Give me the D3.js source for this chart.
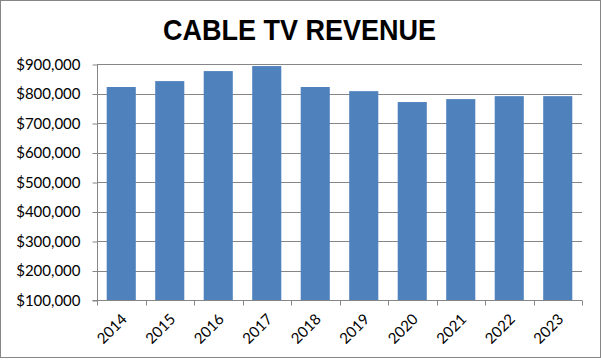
<!DOCTYPE html>
<html><head><meta charset="utf-8">
<script src="https://cdn.jsdelivr.net/npm/d3@7"></script>
<style>body{margin:0;background:#fff}svg{display:block}</style>
</head><body>
<script>
const years = ["2014","2015","2016","2017","2018","2019","2020","2021","2022","2023"];
const revenue = [822000, 842000, 876000, 893000, 822000, 808000, 771000, 781000, 791000, 791000];
const yTicks = [100000,200000,300000,400000,500000,600000,700000,800000,900000];
const title = "CABLE TV REVENUE";

const W = 601, H = 360;
const m = {left: 97, right: 19, top: 64, bottom: 60};
const svg = d3.select("body").append("svg").attr("width", W).attr("height", H);
svg.append("rect").attr("x",0.5).attr("y",0.5).attr("width",W-1).attr("height",H-3)
  .attr("fill","#fff").attr("stroke","#868686").attr("stroke-width",1);

const x = d3.scaleBand().domain(years).range([m.left, W-m.right]).paddingInner(0.4).paddingOuter(0.2);
const y = d3.scaleLinear().domain([100000, 900000]).range([H-m.bottom, m.top]);

svg.append("text").attr("transform","translate(299.5,40) scale(1,1.1)").attr("text-anchor","middle")
  .attr("font-family","Liberation Sans, Arial, sans-serif").attr("font-weight","bold")
  .attr("font-size", 27).attr("fill","#000").text(title);

// gridlines
svg.append("g").selectAll("line").data(yTicks.slice(1)).join("line")
  .attr("x1", m.left).attr("x2", W-m.right)
  .attr("y1", d=>Math.round(y(d))+0.5).attr("y2", d=>Math.round(y(d))+0.5)
  .attr("stroke","#868686").attr("stroke-width",1);

// y axis
const fmt = d => "$" + d3.format(",")(d);
const ya = svg.append("g").attr("transform",`translate(${m.left+0.5},0.5)`)
  .call(d3.axisLeft(y).tickValues(yTicks).tickFormat(fmt).tickSize(5).tickPadding(12));
ya.selectAll("path,line").attr("stroke","#868686");
ya.selectAll("text").attr("font-family","Lato, 'Open Sans', sans-serif").attr("font-size",15).attr("fill","#000");
ya.select(".domain").attr("d", `M-5,${Math.round(y(100000))}H0V${Math.round(y(900000))}`);

// bars
svg.append("g").selectAll("rect").data(years).join("rect")
  .attr("x", d=>x(d)).attr("width", x.bandwidth())
  .attr("y", (d,i)=>y(revenue[i])).attr("height", (d,i)=>y(100000)-y(revenue[i]))
  .attr("fill","#4f81bd");

// x axis
const xa = svg.append("g").attr("transform",`translate(0,${Math.round(y(100000))+0.5})`);
xa.append("line").attr("x1",m.left).attr("x2",W-m.right).attr("stroke","#868686");
const bounds = d3.range(years.length+1).map(i => m.left + i*(W-m.left-m.right)/years.length);
xa.selectAll("line.t").data(bounds).join("line").attr("class","t")
  .attr("x1",d=>Math.round(d)+0.5).attr("x2",d=>Math.round(d)+0.5).attr("y1",0).attr("y2",5)
  .attr("stroke","#868686");
xa.selectAll("text").data(years).join("text")
  .attr("transform", d=>`translate(${x(d)+x.bandwidth()/2+3},16) rotate(-45)`)
  .attr("text-anchor","end").attr("dy","0.35em")
  .attr("font-family","Lato, 'Open Sans', sans-serif").attr("font-size",15).attr("fill","#000")
  .text(d=>d);
</script>
</body></html>
